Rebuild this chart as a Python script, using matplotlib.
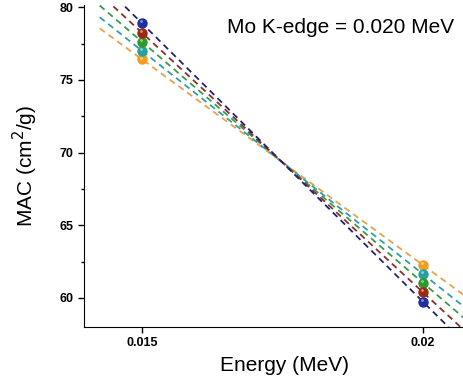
import numpy as np
import matplotlib.pyplot as plt
from matplotlib.ticker import MultipleLocator

plt.rcParams['font.family'] = ['Liberation Sans', 'DejaVu Sans']

energy = [0.015, 0.02]
mac_blue = [78.9, 59.75]
mac_red = [78.25, 60.4]
mac_green = [77.63, 61.05]
mac_teal = [77.01, 61.65]
mac_orange = [76.42, 62.27]

series = [mac_orange, mac_teal, mac_green, mac_red, mac_blue]
marker_cols = ['#f39c1f', '#23a39a', '#2f9a2a', '#9a2a12', '#1f2f9f']
line_cols = ['#e8a24a', '#2e9fa8', '#3a9a4a', '#8a2f2a', '#252070']

fig = plt.figure(figsize=(4.63, 3.83), dpi=100)
ax = fig.add_axes([0.1814, 0.1462, 0.864, 0.841])

x_line = np.array([0.01425, 0.0212])
for vals, lc in zip(series, line_cols):
    k, b = np.polyfit(energy, vals, 1)
    ax.plot(x_line, k * x_line + b, color=lc, lw=1.3, dashes=(3.5, 2.5), zorder=2)
for vals, mc in zip(series, marker_cols):
    ax.plot(energy, vals, 'o', color=mc, ms=6.5, mec=mc, zorder=3)
    ax.plot(np.array(energy) - 0.00001, np.array(vals) + 0.12, 'o', color='white',
            ms=2, alpha=0.5, mew=0, zorder=4)

ax.set_xlim(0.01397, 0.02109)
ax.set_ylim(58.0, 80.16)
ax.set_xticks(energy)
ax.set_xticklabels(['0.015', '0.02'])
ax.yaxis.set_major_locator(MultipleLocator(5))
ax.yaxis.set_minor_locator(MultipleLocator(2.5))
ax.tick_params(axis='both', which='major', direction='out', length=4, width=1, labelsize=9)
ax.tick_params(axis='y', which='minor', direction='out', length=2.5, width=1)
for lab in ax.get_xticklabels() + ax.get_yticklabels():
    lab.set_fontweight('bold')

ax.spines['top'].set_visible(False)
ax.spines['right'].set_visible(False)

ax.set_xlabel('Energy (MeV)', fontsize=15, labelpad=5)
ax.set_ylabel('MAC (cm$^2$/g)', fontsize=15, labelpad=14)
ax.text(0.01652, 78.2, 'Mo K-edge = 0.020 MeV', fontsize=15)

fig.savefig('out.png', dpi=100)
